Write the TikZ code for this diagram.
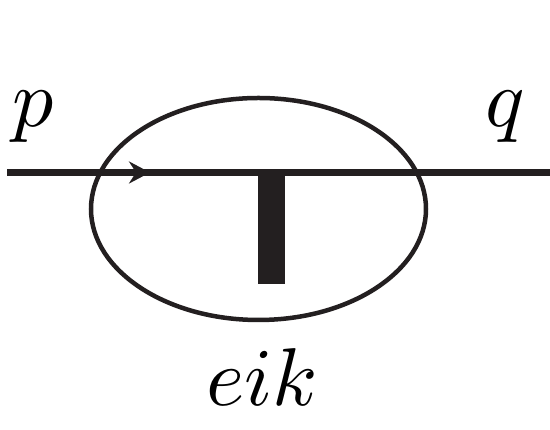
\documentclass[tikz,border=0pt]{standalone}
\usepackage{graphicx}
\usetikzlibrary{arrows.meta}
\tikzset{
  prop/.style={line width=7pt, draw={rgb,255:red,35;green,31;blue,32}},
  blob/.style={line width=4.5pt, draw={rgb,255:red,35;green,31;blue,32}},
  lbl/.style={inner sep=0pt}
}
\newcommand{\biglbl}[1]{\scalebox{8.2}{$#1$}}
\begin{document}
\begin{tikzpicture}[x=1pt,y=1pt]
\useasboundingbox (0,0) rectangle (550,430);
\definecolor{ink}{RGB}{35,31,32}
\coordinate (L) at (7,257.5);
\coordinate (A) at (150,257.5);
\coordinate (R) at (551,257.5);
\coordinate (C) at (258.5,221);
\draw[blob] (C) ellipse [x radius=167.5, y radius=111];
\draw[prop] (L) -- (R);
\draw[prop, -{Stealth[length=21pt,width=22pt,inset=7pt]}] (L) -- (A);
\node[fill=ink, minimum width=27pt, minimum height=113pt, inner sep=0pt, anchor=north west] (bar) at (258,259) {};
\node[lbl, anchor=base west] (p) at (12,303) {\biglbl{p}};
\node[lbl, anchor=base east] (q) at (525,303) {\biglbl{q}};
\node[lbl, anchor=base] (e) at (262,24) {\biglbl{eik}};
\end{tikzpicture}
\end{document}
